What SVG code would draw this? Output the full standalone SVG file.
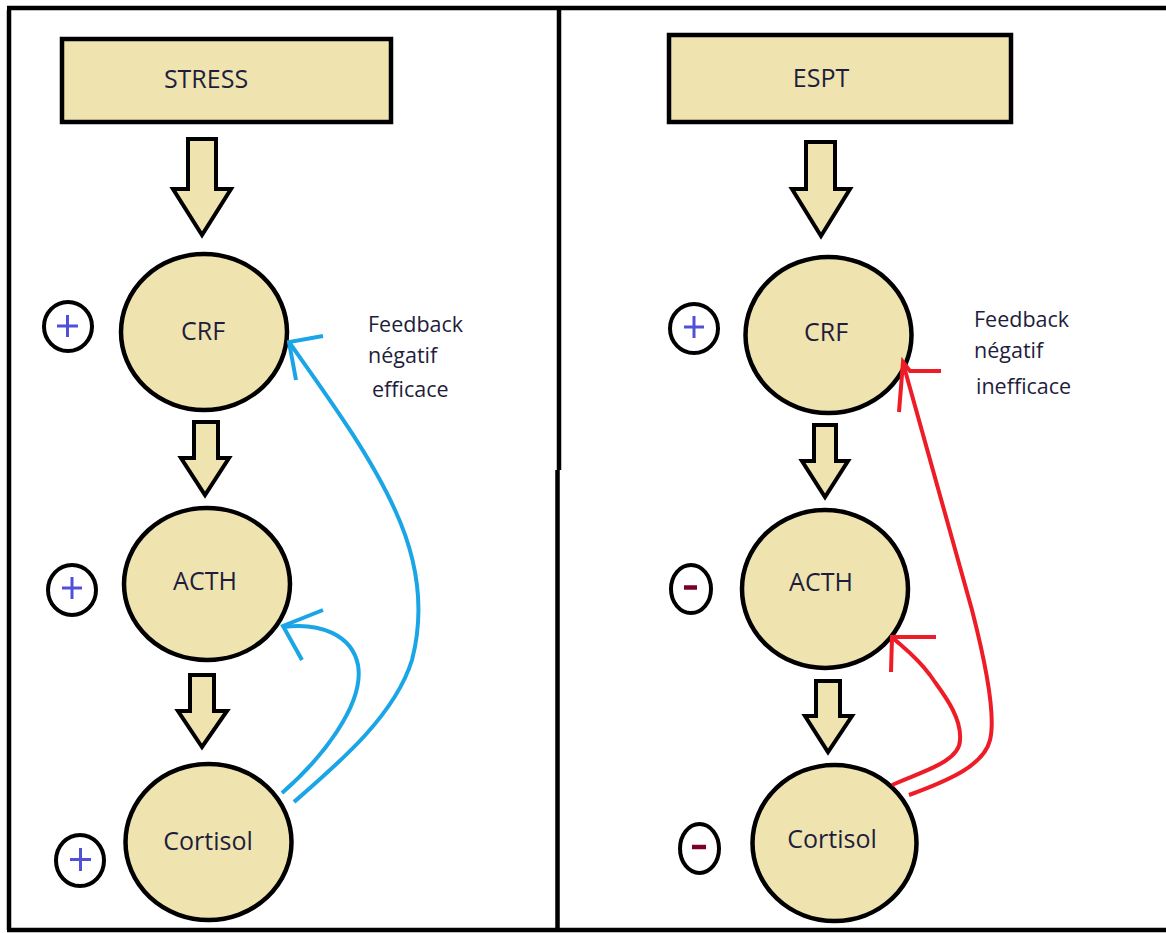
<svg xmlns="http://www.w3.org/2000/svg" width="1166" height="933" viewBox="0 0 1166 933">
<style>
.box{fill:#efe4b0;stroke:#000;stroke-width:4.5}
.node{fill:#efe4b0;stroke:#000;stroke-width:4.5}
.sign{fill:#fff;stroke:#000;stroke-width:4}
.flow{fill:#efe4b0;stroke:#000;stroke-width:4;stroke-linejoin:miter}
.lbl{font-family:"Open Sans","Noto Sans",sans-serif;font-size:25px;fill:#1e1e3c;text-anchor:middle}
.note{font-family:"Open Sans","Noto Sans",sans-serif;font-size:21.5px;fill:#1e1e3c}
.plus{stroke:#5050d8;stroke-width:3;fill:none}
.minus{stroke:#7a0026;stroke-width:4.5;fill:none}
.blue{stroke:#1aa6e6;stroke-width:4;fill:none;stroke-linecap:butt;stroke-linejoin:miter}
.red{stroke:#ee1c26;stroke-width:4;fill:none;stroke-linecap:butt;stroke-linejoin:miter}
.frame{stroke:#000;stroke-width:4.5;fill:none}
</style>
<rect width="1166" height="933" fill="#fff"/>
<g id="frame">
<path class="frame" d="M9,930 L9,10 M7,8 L1166,8 M7,930 L1166,930"/>
<path class="frame" d="M559,10 L559,470 M557.5,470 L557.5,930"/>
</g>
<g id="stress"><rect class="box" x="62" y="39" width="329" height="83"/><text class="lbl" x="206" y="88">STRESS</text></g>
<g id="espt"><rect class="box" x="669" y="35" width="342" height="87"/><text class="lbl" x="821" y="87">ESPT</text></g>
<g id="crf-l"><ellipse class="node" cx="204" cy="332" rx="83" ry="78"/><text class="lbl" x="203" y="340">CRF</text></g>
<g id="acth-l"><ellipse class="node" cx="207" cy="584" rx="83" ry="76"/><text class="lbl" x="205" y="590">ACTH</text></g>
<g id="cortisol-l"><ellipse class="node" cx="208.5" cy="842" rx="83" ry="78"/><text class="lbl" x="208" y="850">Cortisol</text></g>
<g id="crf-r"><ellipse class="node" cx="828.5" cy="335" rx="83" ry="78"/><text class="lbl" x="826" y="341">CRF</text></g>
<g id="acth-r"><ellipse class="node" cx="825" cy="589" rx="83" ry="79"/><text class="lbl" x="821" y="591">ACTH</text></g>
<g id="cortisol-r"><ellipse class="node" cx="834.5" cy="843" rx="82" ry="78"/><text class="lbl" x="832" y="848">Cortisol</text></g>
<g id="sign-l1"><ellipse class="sign" cx="68" cy="326.5" rx="24" ry="24.5"/><path class="plus" d="M57,326 H78 M67.5,315 V337"/></g>
<g id="sign-l2"><ellipse class="sign" cx="72" cy="590" rx="24" ry="25"/><path class="plus" d="M62,588 H82 M72,577 V599"/></g>
<g id="sign-l3"><ellipse class="sign" cx="80" cy="860.5" rx="24" ry="25.5"/><path class="plus" d="M70,859.5 H91 M80.5,848 V871"/></g>
<g id="sign-r1"><ellipse class="sign" cx="694" cy="328.5" rx="24" ry="24.5"/><path class="plus" d="M684,327 H704 M694,316 V338"/></g>
<g id="sign-r2"><ellipse class="sign" cx="691" cy="589" rx="20" ry="24"/><path class="minus" d="M684,587.5 H697"/></g>
<g id="sign-r3"><ellipse class="sign" cx="699.5" cy="848.5" rx="19.5" ry="24.5"/><path class="minus" d="M692,847 H706"/></g>
<g id="note-l"><text class="note" x="368" y="332">Feedback</text><text class="note" x="368" y="363">négatif</text><text class="note" x="372" y="397">efficace</text></g>
<g id="note-r"><text class="note" x="974" y="327">Feedback</text><text class="note" x="974" y="358">négatif</text><text class="note" x="976" y="394">inefficace</text></g>
<g id="connectors">
<path class="flow" d="M188,139 L216,139 L216,189 L231,189 L202,235 L173,189 L188,189 Z"/>
<path class="flow" d="M194,422 L218,422 L218,458 L229,458 L205,495 L181,458 L194,458 Z"/>
<path class="flow" d="M190,675 L214,675 L214,711 L227,711 L202,747 L178,711 L190,711 Z"/>
<path class="flow" d="M806,142 L835,142 L835,189 L850,189 L821,236 L792,189 L806,189 Z"/>
<path class="flow" d="M814,425 L836,425 L836,461 L848,461 L825,497 L802,461 L814,461 Z"/>
<path class="flow" d="M816,681 L840,681 L840,716 L852,716 L828,752 L805,716 L816,716 Z"/>
<path class="blue" d="M294,802 C340,762 395,715 412,660 C425,610 418,560 395,510 C370,455 330,400 289,342"/>
<path class="blue" d="M323,336 L289,342 L296,380"/>
<path class="blue" d="M282,793 C320,760 365,705 358,665 C352,635 320,622 283,627"/>
<path class="blue" d="M323,610 L283,626 L302,660"/>
<path class="red" d="M909,795 C950,780 984,765 990,740 C995,720 990,680 972,610 L903,363"/>
<path class="red" d="M941,371 L910,371 L903,362 L899,412"/>
<path class="red" d="M892,785 C920,772 960,762 960,740 C962,715 940,690 930,675 C915,655 900,645 892,637"/>
<path class="red" d="M936,637 L892,637 L891,672"/>
</g>
</svg>
